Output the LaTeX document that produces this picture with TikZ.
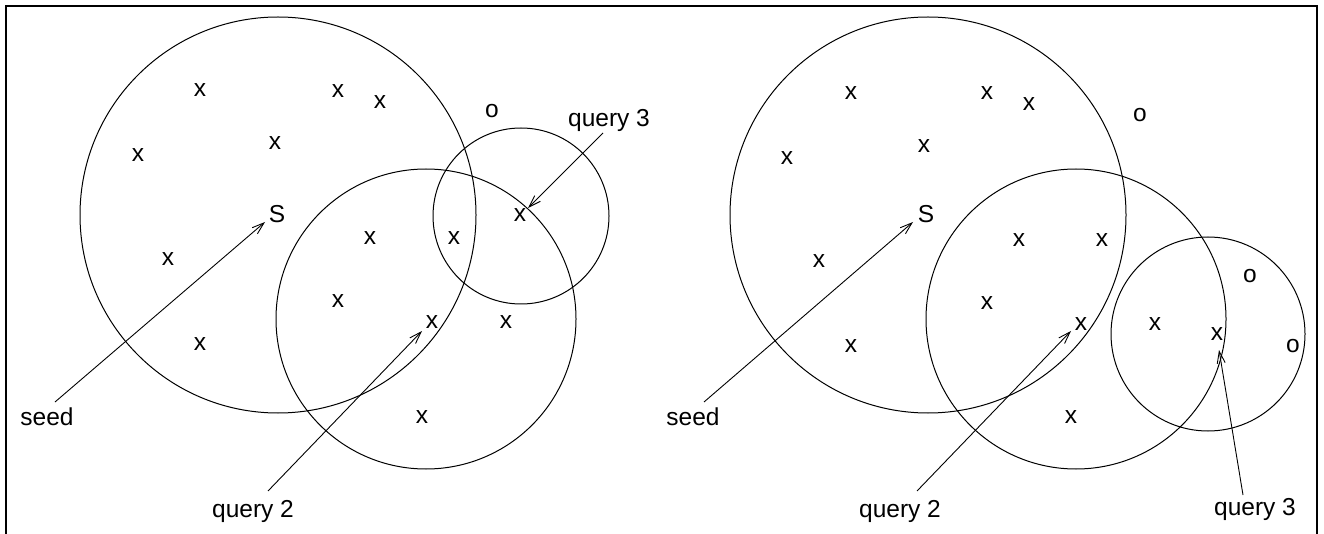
\documentclass[tikz,border=0pt]{standalone}
\usepackage{fontspec}
\setmainfont{Liberation Sans}
\usetikzlibrary{arrows.meta}
\begin{document}
\begin{tikzpicture}[x=1pt,y=-1pt,
  pt/.style={inner sep=0pt,font=\fontsize{24.5}{27}\selectfont},
  lbl/.style={inner sep=0pt,anchor=base,font=\fontsize{24.5}{27}\selectfont},
  ring/.style={draw=black,line width=1pt},
  ptr/.style={draw=black,line width=0.9pt,-{Straight Barb[length=12pt,width=8pt]}}]
\useasboundingbox (0,0) rectangle (1324,534);
% frame, open at the bottom
\draw[line width=1.6pt] (6,534) -- (6,6) -- (1317,6) -- (1317,534);

% ---------- left panel ----------
\draw[ring] (278,215) circle (198);
\draw[ring] (426,319) circle (150);
\draw[ring] (521,216) circle (88);

\node[pt] (la1) at (200,90) {x};
\node[pt] (la2) at (338,91) {x};
\node[pt] (la3) at (380,102) {x};
\node[pt] (la4) at (138,155) {x};
\node[pt] (la5) at (275,143) {x};
\node[pt] (lS)  at (277,214) {S};
\node[pt] (la6) at (168,259) {x};
\node[pt] (la7) at (370,238) {x};
\node[pt] (la8) at (454,238) {x};
\node[pt] (lq3) at (520,215) {x};
\node[pt] (la9) at (338,301) {x};
\node[pt] (lq2) at (432,322) {x};
\node[pt] (la10) at (506,322) {x};
\node[pt] (la11) at (200,344) {x};
\node[pt] (la12) at (422,417) {x};
\node[pt] (lo1) at (492,111) {o};

\node[lbl] (lseed) at (47,425) {seed};
\node[lbl] (lquery2) at (253,517) {query 2};
\node[lbl] (lquery3) at (609,127) {query 3};

\coordinate (lseedT) at (55,402);
\coordinate (lseedH) at (265,222);
\coordinate (lq2T) at (268,491);
\coordinate (lq2H) at (422,331);
\coordinate (lq3T) at (603,133);
\coordinate (lq3H) at (528,208);
\draw[ptr] (lseedT) -- (lseedH);
\draw[ptr] (lq2T) -- (lq2H);
\draw[ptr] (lq3T) -- (lq3H);

% ---------- right panel ----------
\draw[ring] (928,215) circle (198);
\draw[ring] (1076,319) circle (150);
\draw[ring] (1208,334) circle (97);

\node[pt] (ra1) at (851,93) {x};
\node[pt] (ra2) at (987,93) {x};
\node[pt] (ra3) at (1029,104) {x};
\node[pt] (ra4) at (787,158) {x};
\node[pt] (ra5) at (924,146) {x};
\node[pt] (rS)  at (926,214) {S};
\node[pt] (ra6) at (819,261) {x};
\node[pt] (ra7) at (1019,240) {x};
\node[pt] (ra8) at (1102,240) {x};
\node[pt] (ra9) at (987,303) {x};
\node[pt] (rq2) at (1081,324) {x};
\node[pt] (ra10) at (851,346) {x};
\node[pt] (ra11) at (1071,417) {x};
\node[pt] (ra12) at (1155,324) {x};
\node[pt] (rq3) at (1217,334) {x};
\node[pt] (ro1) at (1140,115) {o};
\node[pt] (ro2) at (1250,276) {o};
\node[pt] (ro3) at (1293,346) {o};

\node[lbl] (rseed) at (693,425) {seed};
\node[lbl] (rquery2) at (900,517) {query 2};
\node[lbl] (rquery3) at (1255,515) {query 3};

\coordinate (rseedT) at (704,402);
\coordinate (rseedH) at (913,222);
\coordinate (rq2T) at (917,491);
\coordinate (rq2H) at (1071,331);
\coordinate (rq3T) at (1243,495);
\coordinate (rq3H) at (1219,350);
\draw[ptr] (rseedT) -- (rseedH);
\draw[ptr] (rq2T) -- (rq2H);
\draw[ptr] (rq3T) -- (rq3H);
\end{tikzpicture}
\end{document}
